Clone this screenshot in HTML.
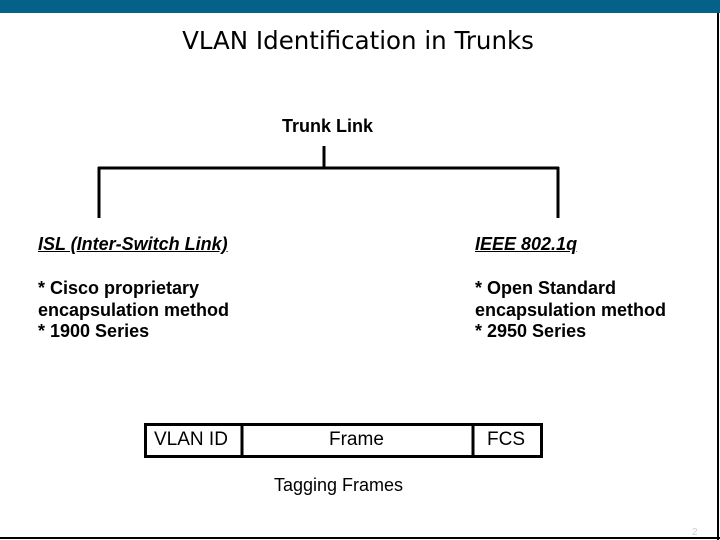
<!DOCTYPE html>
<html><head><style>
body{margin:0;width:720px;height:540px;position:relative;background:#fff;overflow:hidden;font-family:"Liberation Sans",sans-serif;color:#000}
.t{position:absolute;white-space:nowrap}
.b{font-weight:bold;font-size:18px;line-height:21.5px}
</style></head><body>
<div style="position:absolute;left:0;top:0;width:720px;height:13px;background:#05618a"></div>
<div style="position:absolute;right:1px;top:13px;width:2px;height:527px;background:#000"></div>
<div style="position:absolute;left:0;bottom:1px;width:720px;height:2px;background:#000"></div>
<div class="t" style="left:0;width:716px;text-align:center;top:26px;font-family:'DejaVu Sans',sans-serif;font-size:24.5px;font-weight:normal">VLAN Identification in Trunks</div>
<div class="t b" style="left:282px;top:116px">Trunk Link</div>
<svg style="position:absolute;left:0;top:0" width="720" height="540">
<g stroke="#000" stroke-width="3" fill="none">
<line x1="324" y1="146" x2="324" y2="168"/>
<line x1="98" y1="168" x2="559" y2="168"/>
<line x1="99" y1="167" x2="99" y2="218"/>
<line x1="558" y1="167" x2="558" y2="218"/>
<rect x="145.5" y="424.5" width="396" height="32"/>
<line x1="242" y1="424" x2="242" y2="457"/>
<line x1="473" y1="424" x2="473" y2="457"/>
</g>
<text x="692" y="535" font-size="10" fill="#ccc" font-family="Liberation Sans">2</text>
</svg>
<div class="t b" style="left:38px;top:234px;font-style:italic;text-decoration:underline">ISL (Inter-Switch Link)</div>
<div class="t b" style="left:475px;top:234px;font-style:italic;text-decoration:underline">IEEE 802.1q</div>
<div class="t b" style="left:38px;top:278px">* Cisco proprietary<br>encapsulation method<br>* 1900 Series</div>
<div class="t b" style="left:475px;top:278px">* Open Standard<br>encapsulation method<br>* 2950 Series</div>
<div class="t" style="left:154px;top:429px;font-size:19px">VLAN ID</div>
<div class="t" style="left:329px;top:429px;font-size:19px">Frame</div>
<div class="t" style="left:487px;top:429px;font-size:19px">FCS</div>
<div class="t" style="left:274px;top:475px;font-size:18px">Tagging Frames</div>
</body></html>
